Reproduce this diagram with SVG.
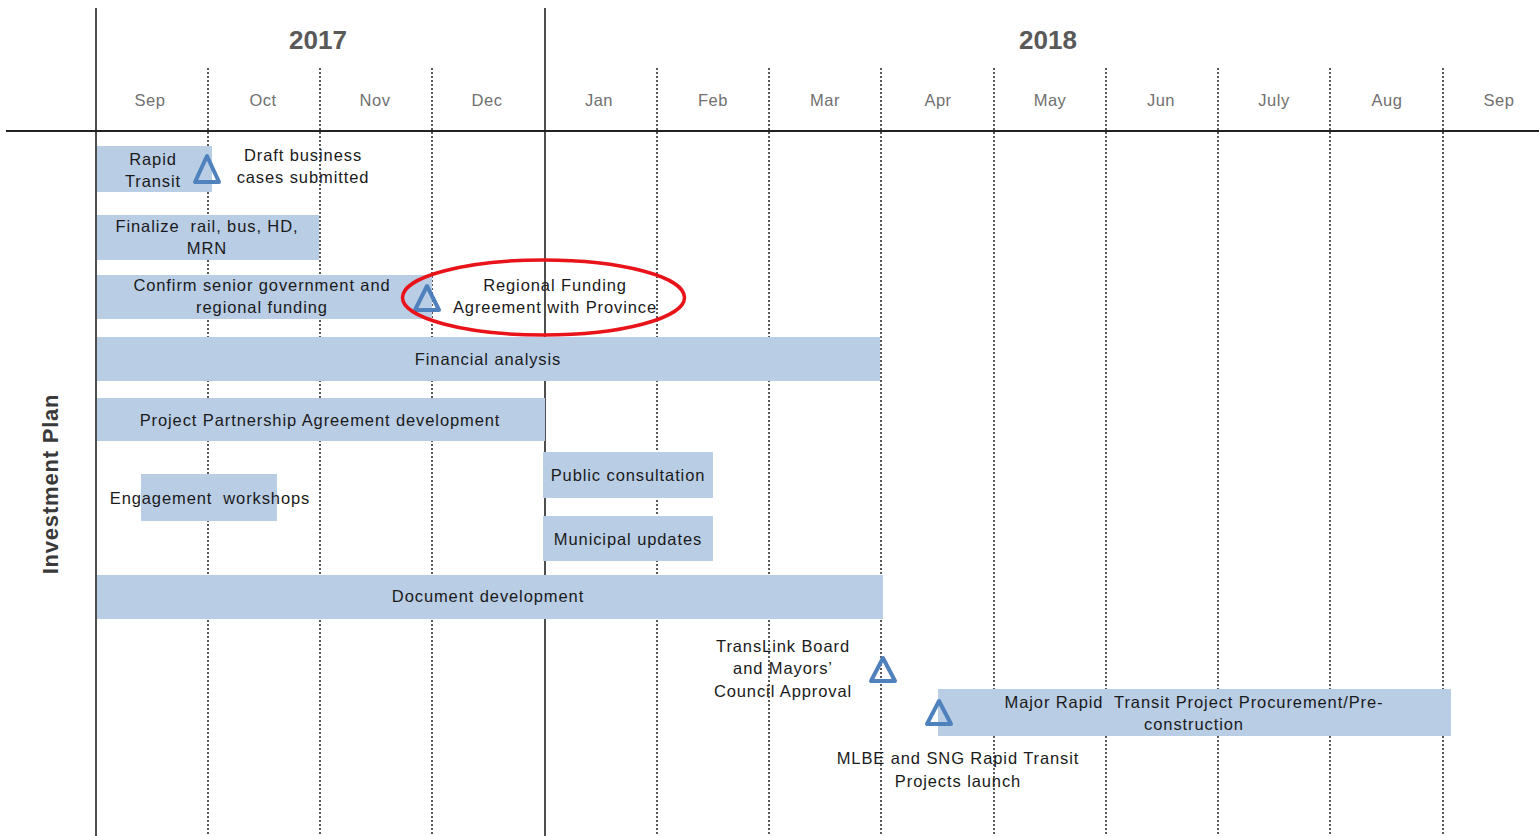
<svg xmlns="http://www.w3.org/2000/svg" width="1539" height="836" viewBox="0 0 1539 836">
<style>
.bg{fill:#ffffff}
.bar{fill:#b9cde5}
.t{font-family:"Liberation Sans",Arial,sans-serif;font-size:16.5px;letter-spacing:0.9px;fill:#1a1a1a;text-anchor:middle}
.m{font-family:"Liberation Sans",Arial,sans-serif;font-size:16.5px;letter-spacing:0.5px;fill:#707070;text-anchor:middle}
.y{font-family:"Liberation Sans",Arial,sans-serif;font-size:26px;font-weight:bold;fill:#595959;text-anchor:middle}
.side{font-family:"Liberation Sans",Arial,sans-serif;font-size:22px;letter-spacing:0.8px;font-weight:bold;fill:#3a3a3a;text-anchor:middle}
.dot{stroke:#222;stroke-width:1.5;stroke-dasharray:2 2;fill:none}
.solid{stroke:#222;stroke-width:1.6;fill:none}
.tri{fill:none;stroke:#4f81bd;stroke-width:4;stroke-linejoin:round}
</style>
<rect class="bg" x="0" y="0" width="1539" height="836"/>
<g id="header">
<text class="y" x="318" y="49">2017</text>
<text class="y" x="1048" y="49">2018</text>
<text class="m" x="150" y="106">Sep</text>
<text class="m" x="263" y="106">Oct</text>
<text class="m" x="375" y="106">Nov</text>
<text class="m" x="487" y="106">Dec</text>
<text class="m" x="599" y="106">Jan</text>
<text class="m" x="713" y="106">Feb</text>
<text class="m" x="825" y="106">Mar</text>
<text class="m" x="938" y="106">Apr</text>
<text class="m" x="1050" y="106">May</text>
<text class="m" x="1161" y="106">Jun</text>
<text class="m" x="1274" y="106">July</text>
<text class="m" x="1387" y="106">Aug</text>
<text class="m" x="1499" y="106">Sep</text>
<text class="side" transform="translate(58,484) rotate(-90)">Investment Plan</text>
</g>
<g id="labels">
<text class="t" x="303" y="161">Draft business</text>
<text class="t" x="303" y="183">cases submitted</text>
<text class="t" x="555" y="291">Regional Funding</text>
<text class="t" x="555" y="313">Agreement with Province</text>
<text class="t" x="783" y="652">TransLink Board</text>
<text class="t" x="783" y="674">and Mayors’</text>
<text class="t" x="783" y="697">Council Approval</text>
<text class="t" x="958" y="764">MLBE and SNG Rapid Transit</text>
<text class="t" x="958" y="787">Projects launch</text>
</g>
<g id="grid">
<line class="solid" x1="96" y1="8" x2="96" y2="836"/>
<line class="solid" x1="545" y1="8" x2="545" y2="836"/>
<line class="solid" x1="6" y1="131" x2="1539" y2="131" style="stroke-width:2"/>
<line class="dot" x1="208" y1="68" x2="208" y2="836"/>
<line class="dot" x1="320" y1="68" x2="320" y2="836"/>
<line class="dot" x1="432" y1="68" x2="432" y2="836"/>
<line class="dot" x1="657" y1="68" x2="657" y2="836"/>
<line class="dot" x1="769" y1="68" x2="769" y2="836"/>
<line class="dot" x1="881" y1="68" x2="881" y2="836"/>
<line class="dot" x1="994" y1="68" x2="994" y2="836"/>
<line class="dot" x1="1106" y1="68" x2="1106" y2="836"/>
<line class="dot" x1="1218" y1="68" x2="1218" y2="836"/>
<line class="dot" x1="1330" y1="68" x2="1330" y2="836"/>
<line class="dot" x1="1443" y1="68" x2="1443" y2="836"/>
</g>
<g id="bar-rapid-transit">
<rect class="bar" x="97" y="146" width="115" height="46"/>
<text class="t" x="153" y="165">Rapid</text>
<text class="t" x="153" y="187">Transit</text>
</g>
<g id="bar-finalize">
<rect class="bar" x="97" y="215" width="222" height="45"/>
<text class="t" x="207" y="232">Finalize&#160; rail, bus, HD,</text>
<text class="t" x="207" y="254">MRN</text>
</g>
<g id="bar-confirm">
<rect class="bar" x="97" y="275" width="335" height="44"/>
<text class="t" x="262" y="291">Confirm senior government and</text>
<text class="t" x="262" y="313">regional funding</text>
</g>
<g id="bar-financial">
<rect class="bar" x="97" y="337" width="783" height="44"/>
<text class="t" x="488" y="365">Financial analysis</text>
</g>
<g id="bar-ppa">
<rect class="bar" x="97" y="398" width="448" height="43"/>
<text class="t" x="320" y="426">Project Partnership Agreement development</text>
</g>
<g id="bar-engagement">
<rect class="bar" x="141" y="474" width="136" height="47"/>
<text class="t" x="210" y="504">Engagement&#160; workshops</text>
</g>
<g id="bar-public">
<rect class="bar" x="543" y="452" width="170" height="46"/>
<text class="t" x="628" y="481">Public consultation</text>
</g>
<g id="bar-municipal">
<rect class="bar" x="543" y="516" width="170" height="45"/>
<text class="t" x="628" y="545">Municipal updates</text>
</g>
<g id="bar-document">
<rect class="bar" x="97" y="575" width="786" height="44"/>
<text class="t" x="488" y="602">Document development</text>
</g>
<g id="bar-major">
<rect class="bar" x="938" y="689" width="513" height="47"/>
<text class="t" x="1194" y="708">Major Rapid&#160; Transit Project Procurement/Pre-</text>
<text class="t" x="1194" y="730">construction</text>
</g>
<g id="milestones">
<polygon class="tri" points="207,156 195,182 219,182"/>
<polygon class="tri" points="427,286 415,310 439,310"/>
<polygon class="tri" points="883,658 871,681 895,681"/>
<polygon class="tri" points="939,701 927,724 951,724"/>
</g>
<g id="highlight">
<ellipse cx="543.5" cy="297.5" rx="141" ry="37.5" fill="none" stroke="#e8141a" stroke-width="3.5"/>
</g>
</svg>
